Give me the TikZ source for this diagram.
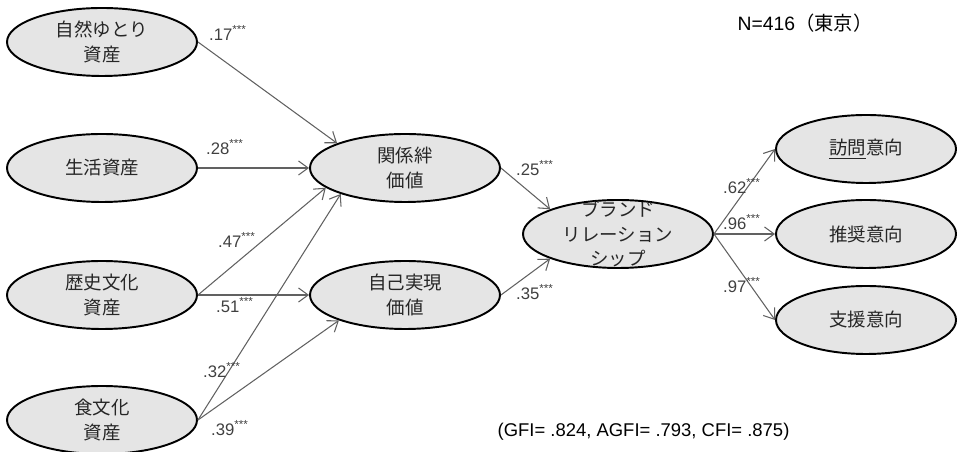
\documentclass[tikz,border=0pt]{standalone}
\usepackage{fontspec}
\setmainfont{Liberation Sans}
\newfontfamily\jp{Noto Sans CJK JP}
\usepackage{tikz}
\colorlet{linecol}{black!62}
\colorlet{fillcol}{black!10}
\usetikzlibrary{shapes.geometric}
\usetikzlibrary{arrows.meta}
\tikzset{
	fattore/.style={ellipse,draw=black,line width=1.1pt,fill=fillcol,inner sep=0pt,minimum width=3.8cm,minimum height=1.36cm,align=center,text=black!85,font=\jp\fontsize{10.5}{14}\selectfont},
	intento/.style={fattore,minimum width=3.6cm},
	path/.style={draw=linecol,line width=0.6pt,-{Straight Barb[length=5.5pt,width=8pt]}},
	coef/.style={text=black!75,inner sep=1pt,font=\fontsize{9.5}{10}\selectfont},
	nota/.style={text=black,inner sep=0pt,font=\fontsize{11}{12}\selectfont},
	}
\newcommand{\stelle}{\textsuperscript{***}}

\begin{document}
\begin{tikzpicture}
\useasboundingbox (0,0) rectangle (19.2,9.04);
%NODI
\node[fattore] (a1) at (2.04,8.2) {自然ゆとり\\資産};
\node[fattore] (a2) at (2.04,5.68) {生活資産};
\node[fattore] (a3) at (2.04,3.14) {歴史文化\\資産};
\node[fattore] (a4) at (2.04,0.64) {食文化\\資産};
\node[fattore] (v1) at (8.1,5.68) {関係絆\\価値};
\node[fattore] (v2) at (8.1,3.14) {自己実現\\価値};
\node[fattore] (br) at (12.36,4.36) {\smash{\raisebox{-0.14cm}{\begin{tabular}{@{}c@{}}ブランド\\リレーション\\シップ\end{tabular}}}};
\node[intento] (i1) at (17.32,6.06) {\underline{訪問}意向};
\node[intento] (i2) at (17.32,4.36) {推奨意向};
\node[intento] (i3) at (17.32,2.64) {支援意向};
%FRECCE
\draw[path] (a1.east) -- (v1.north west);
\draw[path] (a2.east) -- (v1.west);
\draw[path] (a3.east) -- (v1.194);
\draw[path] (a3.east) -- (v2.west);
\draw[path] (a4.east) -- (v1.202);
\draw[path] (a4.east) -- (v2.201);
\draw[path] (v1.east) -- (br.north west);
\draw[path] (v2.east) -- (br.south west);
\draw[path] (br.east) -- (i1.west);
\draw[path] (br.east) -- (i2.west);
\draw[path] (br.east) -- (i3.west);
%COEFFICIENTI
\node[coef] (c1) at (4.56,8.38) {.17\stelle};
\node[coef] (c2) at (4.5,6.1) {.28\stelle};
\node[coef] (c3) at (4.74,4.24) {.47\stelle};
\node[coef] (c4) at (4.7,2.94) {.51\stelle};
\node[coef] (c5) at (4.44,1.64) {.32\stelle};
\node[coef] (c6) at (4.6,0.48) {.39\stelle};
\node[coef] (c7) at (10.7,5.68) {.25\stelle};
\node[coef] (c8) at (10.7,3.2) {.35\stelle};
\node[coef] (c9) at (14.84,5.32) {.62\stelle};
\node[coef] (c10) at (14.84,4.6) {.96\stelle};
\node[coef] (c11) at (14.84,3.34) {.97\stelle};
%NOTE
\node[nota] (n) at (16.1,8.58) {N=416{\jp（東京）}};
\node[nota,font=\fontsize{10.5}{12}\selectfont] (fit) at (12.87,0.4) {(GFI= .824, AGFI= .793, CFI= .875)};
\end{tikzpicture}
\end{document}
